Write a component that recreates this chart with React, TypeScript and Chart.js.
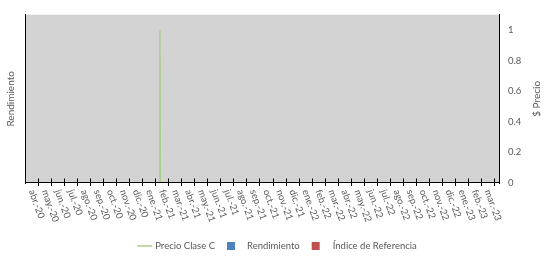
import React, { useEffect, useRef } from "react";
import { Chart, registerables } from "chart.js";

Chart.register(...registerables);

// ---- data ----
const monthLabels = [
  "abr.-20", "may.-20", "jun.-20", "jul.-20", "ago.-20", "sep.-20", "oct.-20", "nov.-20", "dic.-20",
  "ene.-21", "feb.-21", "mar.-21", "abr.-21", "may.-21", "jun.-21", "jul.-21", "ago.-21", "sep.-21",
  "oct.-21", "nov.-21", "dic.-21", "ene.-22", "feb.-22", "mar.-22", "abr.-22", "may.-22", "jun.-22",
  "jul.-22", "ago.-22", "sep.-22", "oct.-22", "nov.-22", "dic.-22", "ene.-23", "feb.-23", "mar.-23",
];
const priceDates = ["2021-02-10", "2021-02-11", "2021-02-12"];
const priceValues = [0, 1, 0];
const rendimientoValues: number[] = [];
const indiceValues: number[] = [];
const rightTicks = [0, 0.2, 0.4, 0.6, 0.8, 1];

const seriesNames = ["Precio Clase C", "Rendimiento", "Índice de Referencia"];
const seriesColors = ["#a9d18e", "#4f81bd", "#c0504d"];

const FONT = "Lato, 'Open Sans', sans-serif";
const TEXT = "#595959";

// first month of axis: April 2020 = index 0
function toMonthIndex(s: string): number {
  const [y, m, d] = s.split("-").map(Number);
  const days = new Date(y, m, 0).getDate();
  return (y - 2020) * 12 + (m - 4) - 0.5 + (d - 1) / days;
}

const decorPlugin = {
  id: "decor",
  beforeDraw(chart: any) {
    const { ctx, chartArea } = chart;
    const { left, top, right, bottom } = chartArea;
    ctx.save();
    ctx.fillStyle = "#d3d3d3";
    ctx.fillRect(left, top, right - left, bottom - top);
    ctx.restore();
  },
  afterDraw(chart: any) {
    const { ctx, chartArea } = chart;
    const { left, right, bottom } = chartArea;
    const xs = chart.scales.x;
    const yAxis = Math.round(bottom) - 0.5;
    ctx.save();
    // bottom axis
    ctx.strokeStyle = "#000";
    ctx.lineWidth = 1;
    ctx.beginPath();
    ctx.moveTo(left, yAxis);
    ctx.lineTo(right, yAxis);
    for (let k = 0; k < monthLabels.length; k++) {
      const px = Math.round(xs.getPixelForValue(k + 0.5)) + 0.5;
      ctx.moveTo(px, yAxis - 4);
      ctx.lineTo(px, yAxis + 3.5);
    }
    ctx.stroke();

    // month labels, rotated clockwise
    ctx.fillStyle = TEXT;
    ctx.font = `9.5px ${FONT}`;
    ctx.textAlign = "left";
    ctx.textBaseline = "middle";
    monthLabels.forEach((lab, i) => {
      const px = xs.getPixelForValue(i);
      ctx.save();
      ctx.translate(px, bottom + 7);
      ctx.rotate((70 * Math.PI) / 180);
      ctx.fillText(lab, 0, 0);
      ctx.restore();
    });

    // right axis title, reading upwards
    ctx.save();
    ctx.font = `10px ${FONT}`;
    ctx.textAlign = "center";
    ctx.textBaseline = "middle";
    ctx.translate(537, (chartArea.top + bottom) / 2);
    ctx.rotate(-Math.PI / 2);
    ctx.fillText("$ Precio", 0, 0);
    ctx.restore();

    // legend
    ctx.font = `9.5px ${FONT}`;
    ctx.textBaseline = "middle";
    ctx.textAlign = "left";
    const ly = 246;
    const w0 = ctx.measureText(seriesNames[0]).width;
    const w1 = ctx.measureText(seriesNames[1]).width;
    const w2 = ctx.measureText(seriesNames[2]).width;
    const total = 15 + 3 + w0 + 12 + 8 + 12 + w1 + 12 + 8 + 13 + w2;
    let x = 277 - total / 2;
    ctx.strokeStyle = seriesColors[0];
    ctx.lineWidth = 1.5;
    ctx.beginPath();
    ctx.moveTo(x, ly);
    ctx.lineTo(x + 15, ly);
    ctx.stroke();
    x += 18;
    ctx.fillText(seriesNames[0], x, ly);
    x += w0 + 12;
    ctx.fillStyle = seriesColors[1];
    ctx.fillRect(x, ly - 4, 8, 8);
    x += 20;
    ctx.fillStyle = TEXT;
    ctx.fillText(seriesNames[1], x, ly);
    x += w1 + 12;
    ctx.fillStyle = seriesColors[2];
    ctx.fillRect(x, ly - 4, 8, 8);
    x += 21;
    ctx.fillStyle = TEXT;
    ctx.fillText(seriesNames[2], x, ly);
    ctx.restore();
  },
};

export default function App() {
  const ref = useRef<HTMLCanvasElement | null>(null);
  useEffect(() => {
    if (!ref.current) return;
    const chart = new Chart(ref.current, {
      type: "line",
      data: {
        datasets: [
          {
            type: "line",
            label: seriesNames[0],
            data: priceDates.map((d, i) => ({ x: toMonthIndex(d), y: priceValues[i] })),
            borderColor: seriesColors[0],
            backgroundColor: seriesColors[0],
            borderWidth: 1.5,
            pointRadius: 0,
            xAxisID: "x",
            yAxisID: "y2",
          },
          {
            type: "bar",
            label: seriesNames[1],
            data: rendimientoValues,
            backgroundColor: seriesColors[1],
            xAxisID: "x",
            yAxisID: "y",
          },
          {
            type: "bar",
            label: seriesNames[2],
            data: indiceValues,
            backgroundColor: seriesColors[2],
            xAxisID: "x",
            yAxisID: "y",
          },
        ] as any,
      },
      options: {
        animation: false,
        responsive: false,
        layout: { padding: { left: 5, right: 0, top: 6, bottom: 73 } },
        plugins: { legend: { display: false }, tooltip: { enabled: false } },
        scales: {
          x: {
            type: "linear",
            display: true,
            offset: false,
            min: -0.5,
            max: 35.884,
            grid: { display: false, drawTicks: false, offset: false },
            border: { display: false },
            ticks: { display: false },
            afterFit: (s: any) => {
              s.height = 0;
            },
          },
          y: {
            type: "linear",
            position: "left",
            min: 0,
            max: 1,
            grid: { display: true, drawOnChartArea: false, drawTicks: false },
            border: { display: true, color: "#000", width: 1 },
            ticks: { display: false },
            title: {
              display: true,
              text: "Rendimiento",
              color: TEXT,
              font: { family: FONT, size: 10 },
              padding: { top: 0, bottom: 0 },
            },
            afterFit: (s: any) => {
              s.width = 20;
            },
          },
          y2: {
            type: "linear",
            position: "right",
            min: 0,
            max: 1.1,
            grid: { display: true, drawOnChartArea: false, drawTicks: false },
            border: { display: true, color: "#000", width: 1 },
            afterBuildTicks: (s: any) => {
              s.ticks = rightTicks.map((v) => ({ value: v }));
            },
            ticks: {
              color: TEXT,
              padding: 9,
              font: { family: FONT, size: 9.5 },
              callback: (v: any) => String(Math.round(Number(v) * 10) / 10),
            },
            afterFit: (s: any) => {
              s.width = 45;
            },
          },
        },
      },
      plugins: [decorPlugin],
    });
    return () => chart.destroy();
  }, []);
  return (
    <div style={{ position: "fixed", left: 0, top: 0, width: 544, height: 256, background: "#fff" }}>
      <canvas ref={ref} width={544} height={256} style={{ display: "block" }} />
    </div>
  );
}
